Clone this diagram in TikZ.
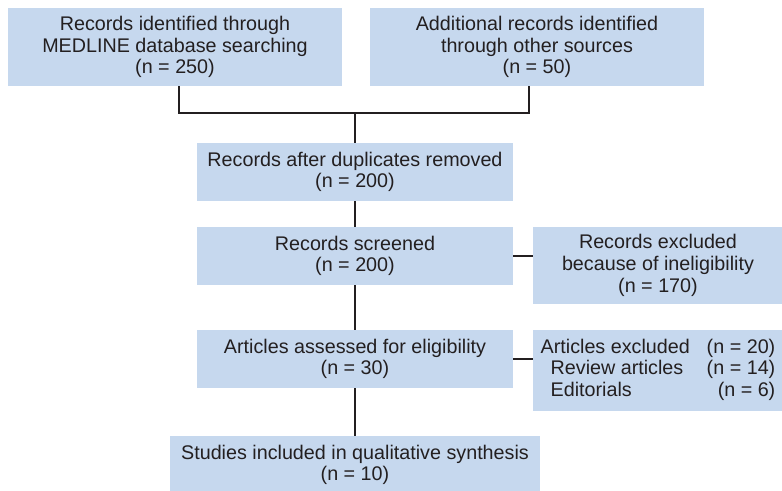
\documentclass[tikz,border=0pt]{standalone}
\usepackage{fontspec}
\setmainfont{Liberation Sans}
\usetikzlibrary{calc}

\definecolor{boxblue}{HTML}{C6D8EE}
\definecolor{inkgray}{HTML}{231F20}

\begin{document}
\begin{tikzpicture}[x=0.75pt,y=-0.75pt,
	box/.style={fill=boxblue,text=inkgray,inner sep=0pt,align=center,font=\fontsize{14.8}{16.3}\selectfont},
	link/.style={draw=inkgray,line width=2pt}]
	\clip (0,0) rectangle (782,490);
	% identification
	\node[box,minimum width=250.5pt,minimum height=58.5pt] (r1) at (175,47) {Records identified through\\MEDLINE database searching\\(n = 250)};
	\node[box,minimum width=250.5pt,minimum height=58.5pt] (r2) at (537,47) {Additional records identified\\through other sources\\(n = 50)};
	% screening
	\node[box,minimum width=237pt,minimum height=43.5pt] (d) at (355,172) {Records after duplicates removed\\(n = 200)};
	\node[box,minimum width=237pt,minimum height=43.5pt] (s) at (355,256) {Records screened\\(n = 200)};
	\node[box,minimum width=187.5pt,minimum height=57.75pt] (x1) at (658,265.5) {Records excluded\\because of ineligibility\\(n = 170)};
	% eligibility
	\node[box,minimum width=237pt,minimum height=43.5pt] (e) at (355,359) {Articles assessed for eligibility\\(n = 30)};
	\node[box,minimum width=187.5pt,minimum height=60.75pt] (x2) at (658,370.5) {\begin{tabular*}{176pt}{@{}l@{\extracolsep{\fill}}r@{}}
		Articles excluded & (n = 20)\\
		\hspace{7.5pt}Review articles & (n = 14)\\
		\hspace{7.5pt}Editorials & (n = 6)
	\end{tabular*}};
	% included
	\node[box,minimum width=277.5pt,minimum height=43.5pt] (q) at (355,465) {Studies included in qualitative synthesis\\(n = 10)};
	\coordinate (j) at (355,113);
	\draw[link] ([xshift=3pt]r1.south) |- (j) -| ([xshift=-6pt]r2.south);
	\draw[link] (j) -- (d);
	\draw[link] (d) -- (s);
	\draw[link] (s.east) -- (s.east -| x1.west);
	\draw[link] (s) -- (e);
	\draw[link] (e.east) -- (e.east -| x2.west);
	\draw[link] (e) -- (q);
\end{tikzpicture}
\end{document}
